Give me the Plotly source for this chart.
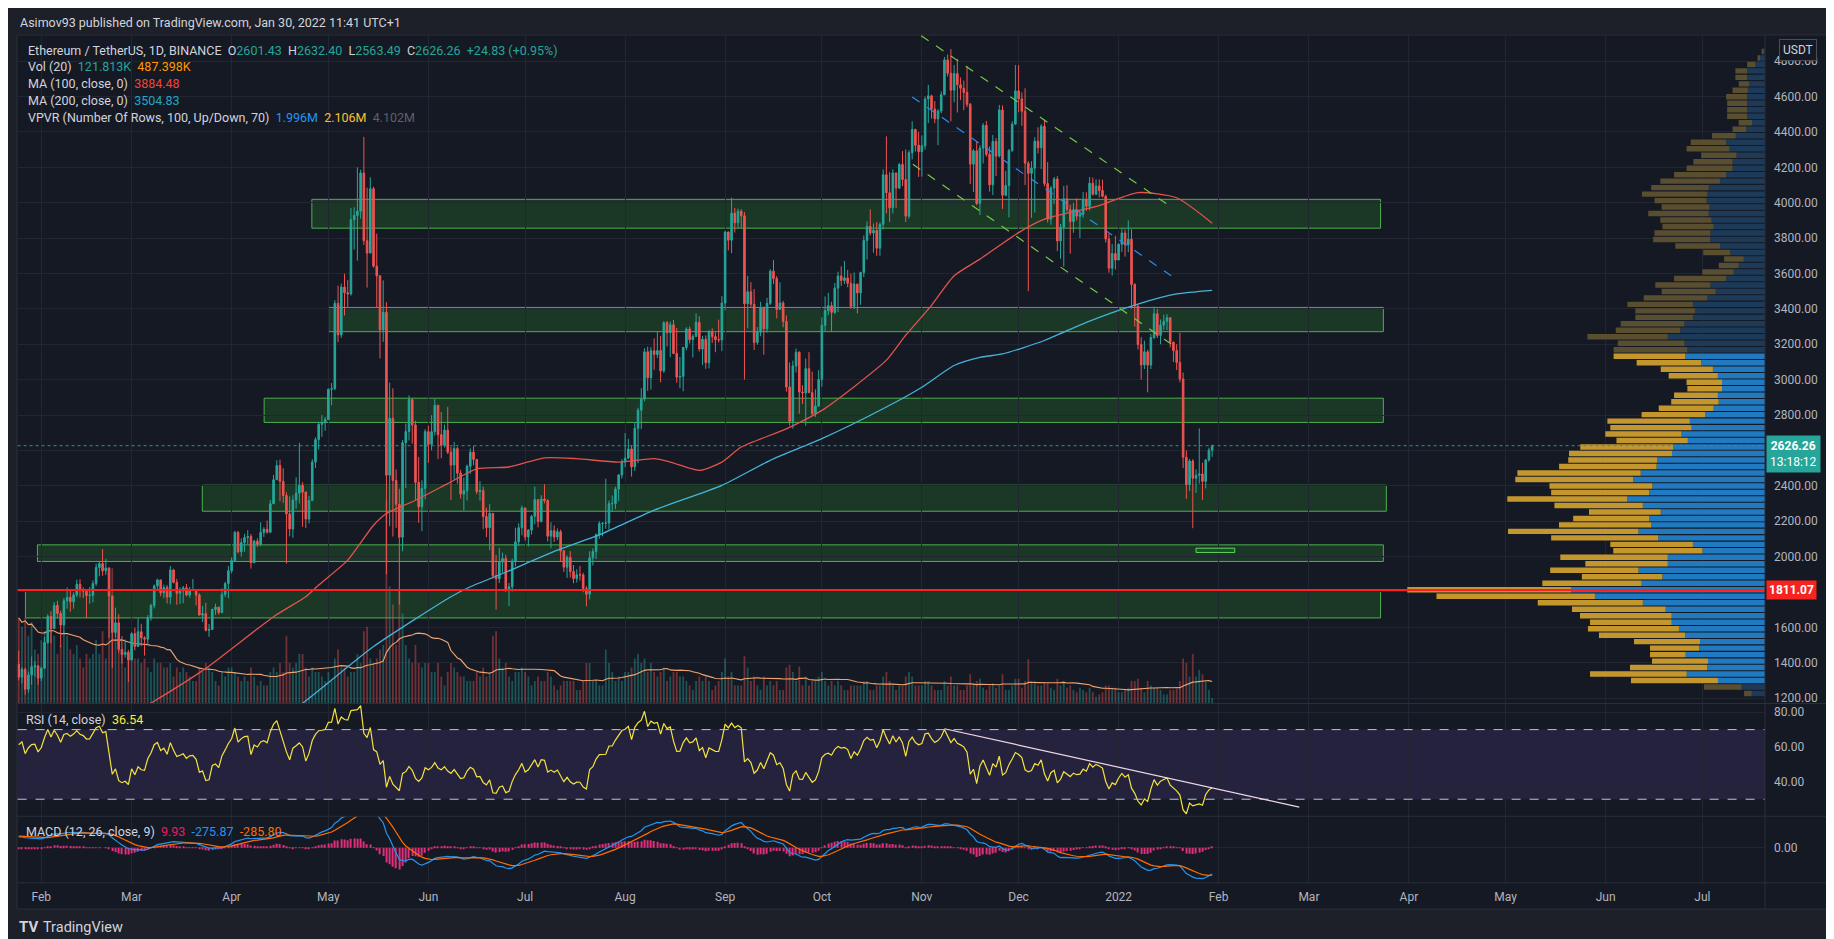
import numpy as np
import pandas as pd
import plotly.graph_objects as go

W, H = 1834, 939

# ---------------- data ----------------
# daily ETH/USDT candles (Binance), 2021-01-25 .. 2022-01-30
first_day = "2021-01-25"
first_open = 1391.6

closes = [
    1318, 1362, 1250, 1331, 1377, 1382, 1313,
    1369, 1514, 1661, 1593, 1724, 1678, 1613, 1750, 1769, 1744, 1783, 1843, 1814, 1804, 1779, 1781, 1848, 1938, 1960, 1919, 1935, 1777, 1571, 1625, 1475, 1446, 1459, 1416,
    1564, 1492, 1575, 1540, 1533, 1654, 1723, 1834, 1868, 1795, 1825, 1771, 1924, 1854, 1792, 1806, 1823, 1782, 1808, 1812, 1782, 1669, 1677, 1583, 1588, 1701, 1714, 1683, 1786, 1847, 1919,
    1977, 2136, 2027, 2078, 2107, 2113, 1965, 2087, 2069, 2136, 2154, 2138, 2298, 2434, 2514, 2425, 2345, 2241, 2156, 2320, 2358, 2402, 2364, 2212, 2317, 2534, 2661, 2747, 2757, 2774,
    2945, 2949, 3431, 3253, 3523, 3491, 3484, 3904, 3928, 3952, 4168, 3785, 3715, 4079, 3641, 3587, 3281, 3381, 2460, 2781, 2430, 2295, 2109, 2643, 2707, 2887, 2744, 2419, 2281, 2385, 2706,
    2634, 2706, 2855, 2689, 2629, 2715, 2590, 2517, 2610, 2471, 2353, 2372, 2510, 2590, 2549, 2367, 2373, 2226, 2163, 2244, 1892, 1874, 1968, 1989, 1811, 1829, 1975, 2083, 2163, 2275,
    2111, 2150, 2227, 2322, 2198, 2325, 2316, 2115, 2146, 2110, 2140, 2032, 1940, 1995, 1916, 1876, 1897, 1896, 1819, 1787, 1993, 2028, 2124, 2186, 2188, 2190, 2299, 2299, 2381, 2461, 2534,
    2556, 2608, 2507, 2725, 2827, 2890, 3157, 3011, 3163, 3142, 3164, 3049, 3322, 3265, 3310, 3148, 3014, 3018, 3182, 3286, 3226, 3244, 3324, 3173, 3228, 3096, 3270, 3243, 3226, 3224, 3433,
    3834, 3788, 3941, 3887, 3952, 3926, 3429, 3497, 3426, 3210, 3268, 3407, 3287, 3431, 3613, 3571, 3397, 3433, 3329, 2958, 2764, 3077, 3155, 2930, 2925, 3062, 2926, 2807, 2850, 3001,
    3307, 3390, 3418, 3380, 3517, 3586, 3560, 3575, 3545, 3414, 3540, 3490, 3605, 3787, 3866, 3829, 3844, 3743, 3878, 4158, 4056, 3971, 4168, 4083, 4216, 4131, 3924, 4283, 4414, 4325, 4288,
    4322, 4586, 4604, 4530, 4474, 4518, 4610, 4807, 4732, 4636, 4730, 4667, 4647, 4623, 4556, 4218, 4293, 3996, 4308, 4437, 4274, 4101, 4346, 4264, 4524, 4042, 4097, 4294, 4444, 4632,
    4587, 4517, 4223, 4166, 4195, 4348, 4311, 4432, 4108, 3907, 4083, 4134, 3784, 3861, 4022, 3961, 3893, 3960, 3924, 3934, 4020, 3980, 4110, 4048, 4094, 4069, 4036, 3795, 3630, 3713, 3676,
    3765, 3829, 3762, 3794, 3538, 3416, 3199, 3083, 3157, 3082, 3238, 3372, 3250, 3308, 3330, 3350, 3212, 3164, 3097, 3004, 2561, 2406, 2540, 2442, 2459, 2467, 2425, 2546, 2601.43, 2626.26,
]
highs = [
    1467, 1375, 1372, 1349, 1435, 1409, 1386,
    1377, 1545, 1675, 1692, 1743, 1750, 1694, 1766, 1826, 1816, 1797, 1870, 1871, 1826, 1800, 1828, 1865, 1960, 1971, 2042, 1987, 1939, 1779, 1711, 1674, 1550, 1531, 1472,
    1572, 1598, 1651, 1620, 1550, 1669, 1734, 1842, 1875, 1869, 1841, 1839, 1946, 1931, 1874, 1826, 1834, 1845, 1828, 1873, 1812, 1793, 1722, 1739, 1619, 1705, 1733, 1715, 1820, 1857, 1946,
    1995, 2145, 2145, 2102, 2128, 2149, 2127, 2094, 2103, 2193, 2166, 2203, 2319, 2461, 2544, 2548, 2499, 2363, 2340, 2347, 2448, 2643, 2420, 2368, 2342, 2550, 2674, 2761, 2800, 2789,
    2950, 2980, 3449, 3531, 3542, 3599, 3562, 3970, 3974, 4200, 4186, 4372, 4085, 4144, 4090, 3825, 3590, 3561, 3438, 2983, 2951, 2492, 2383, 2658, 2752, 2911, 2893, 2767, 2563, 2431, 2720,
    2739, 2799, 2890, 2857, 2817, 2746, 2846, 2620, 2647, 2620, 2490, 2445, 2520, 2611, 2625, 2551, 2426, 2396, 2276, 2296, 2245, 2009, 2049, 2022, 2010, 1851, 1989, 2163, 2188, 2288,
    2275, 2155, 2235, 2396, 2322, 2347, 2409, 2324, 2194, 2176, 2159, 2152, 2036, 2007, 2031, 1952, 1928, 1947, 1908, 1832, 2030, 2045, 2130, 2200, 2195, 2440, 2317, 2345, 2395, 2466, 2550,
    2698, 2665, 2627, 2758, 2841, 2952, 3177, 3186, 3184, 3233, 3271, 3247, 3330, 3331, 3327, 3337, 3292, 3128, 3185, 3296, 3300, 3257, 3375, 3359, 3247, 3250, 3280, 3290, 3267, 3339, 3472,
    3840, 3838, 4028, 3970, 3966, 3964, 3947, 3587, 3551, 3512, 3297, 3440, 3412, 3462, 3624, 3676, 3585, 3550, 3445, 3363, 3097, 3107, 3176, 3160, 2969, 3119, 3155, 3045, 2945, 3053,
    3352, 3470, 3491, 3440, 3546, 3610, 3640, 3670, 3620, 3600, 3606, 3542, 3610, 3815, 3895, 3962, 3883, 3890, 3888, 4188, 4375, 4173, 4188, 4170, 4225, 4292, 4301, 4297, 4460, 4418, 4400,
    4380, 4600, 4666, 4610, 4575, 4528, 4630, 4823, 4838, 4868, 4778, 4814, 4708, 4690, 4773, 4564, 4303, 4344, 4325, 4450, 4462, 4318, 4383, 4365, 4553, 4550, 4180, 4304, 4460, 4778,
    4778, 4624, 4647, 4235, 4234, 4370, 4426, 4444, 4470, 4230, 4095, 4145, 4150, 3880, 4095, 4099, 3989, 3999, 4025, 3953, 4060, 4059, 4145, 4142, 4132, 4132, 4130, 4045, 3825, 3767, 3813,
    3770, 3856, 3850, 3900, 3850, 3545, 3420, 3240, 3220, 3168, 3259, 3412, 3400, 3340, 3367, 3370, 3345, 3200, 3200, 3265, 3040, 2600, 2552, 2550, 2493, 2724, 2530, 2550, 2615, 2632.40,
]
lows = [
    1300, 1283, 1218, 1232, 1275, 1323, 1275,
    1296, 1364, 1507, 1509, 1589, 1652, 1487, 1566, 1705, 1689, 1705, 1770, 1769, 1765, 1652, 1733, 1741, 1833, 1888, 1891, 1896, 1540, 1370, 1543, 1456, 1395, 1428, 1290,
    1411, 1469, 1489, 1493, 1440, 1500, 1637, 1707, 1810, 1776, 1764, 1735, 1730, 1848, 1728, 1732, 1736, 1775, 1767, 1810, 1724, 1668, 1630, 1577, 1546, 1585, 1670, 1672, 1680, 1771, 1764,
    1905, 1968, 2018, 1999, 2027, 2070, 1932, 1966, 2054, 2058, 2111, 2129, 2131, 2300, 2433, 2313, 2303, 1960, 2114, 2106, 2271, 2300, 2168, 2161, 2187, 2313, 2501, 2605, 2677, 2711,
    2772, 2855, 2940, 3212, 3236, 3362, 3412, 3475, 3735, 3672, 3910, 3762, 3520, 3715, 3633, 3406, 3120, 3213, 1900, 2171, 2113, 2162, 1728, 2030, 2387, 2656, 2638, 2320, 2191, 2144, 2323,
    2530, 2600, 2684, 2551, 2556, 2616, 2580, 2320, 2434, 2412, 2328, 2260, 2317, 2467, 2516, 2352, 2316, 2154, 2110, 2036, 1875, 1700, 1850, 1908, 1800, 1720, 1802, 1945, 2059, 2120,
    2090, 2057, 2124, 2182, 2165, 2193, 2301, 2085, 2047, 2082, 2092, 1972, 1913, 1879, 1881, 1849, 1853, 1864, 1798, 1718, 1758, 1950, 1986, 2100, 2114, 2157, 2152, 2252, 2268, 2313, 2441,
    2505, 2551, 2452, 2484, 2527, 2720, 2877, 2937, 2944, 3055, 3122, 2985, 3038, 3187, 3127, 3144, 2982, 2952, 2934, 3166, 3204, 3125, 3241, 3159, 3083, 3061, 3064, 3207, 3155, 3210, 3161,
    3392, 3730, 3715, 3831, 3856, 3855, 3000, 3290, 3407, 3168, 3197, 3245, 3141, 3265, 3422, 3540, 3346, 3394, 3296, 2932, 2740, 2723, 3040, 2807, 2863, 2739, 2925, 2795, 2788, 2850,
    2960, 3270, 3364, 3270, 3370, 3382, 3530, 3540, 3522, 3400, 3398, 3375, 3423, 3580, 3679, 3815, 3717, 3700, 3700, 3849, 3939, 3890, 3939, 3970, 4076, 4094, 3890, 3910, 4245, 4290, 4146,
    4147, 4300, 4450, 4475, 4450, 4325, 4505, 4608, 4713, 4460, 4567, 4510, 4580, 4523, 4540, 4105, 4060, 3986, 3930, 4222, 4261, 4063, 4043, 4150, 4255, 3965, 4037, 3917, 4288, 4440,
    4511, 4435, 4100, 3500, 3915, 3944, 4278, 4190, 4092, 3888, 3875, 3992, 3727, 3683, 3638, 3946, 3712, 3830, 3900, 3800, 3915, 3953, 3956, 4040, 4042, 4030, 4030, 3775, 3604, 3588, 3622,
    3680, 3722, 3695, 3720, 3400, 3300, 3170, 3000, 3060, 2928, 3060, 3230, 3235, 3200, 3281, 3280, 3182, 3100, 3054, 2985, 2500, 2326, 2370, 2160, 2360, 2412, 2320, 2385, 2535, 2563.49,
]
# volume in thousands of ETH
volume_k = [
    1900, 1700, 1900, 1500, 1800, 1200, 1100,
    1400, 1600, 1900, 1800, 1500, 1100, 1300, 1600, 1500, 1200, 1100, 1300, 1000, 800, 1100, 1000, 1100, 1400, 1100, 1600, 1000, 2600, 3000, 1800, 1500, 1200, 800, 1000,
    1200, 1000, 1000, 900, 1000, 800, 700, 1000, 900, 900, 800, 800, 900, 600, 800, 700, 800, 700, 600, 500, 500, 800, 700, 900, 800, 700, 500, 400, 700, 600, 800,
    800, 700, 600, 500, 600, 500, 800, 600, 400, 500, 400, 400, 700, 800, 700, 900, 700, 1500, 900, 800, 900, 1100, 1100, 800, 600, 800, 700, 700, 600, 500,
    700, 500, 1000, 1200, 800, 800, 600, 700, 700, 1100, 900, 1600, 1700, 1000, 900, 1000, 1200, 1300, 4500, 2600, 2200, 1300, 2500, 2000, 1300, 1000, 900, 1300, 900, 800, 900,
    900, 700, 700, 900, 600, 400, 700, 900, 800, 700, 600, 600, 500, 500, 500, 700, 600, 800, 600, 700, 1500, 1600, 1000, 800, 900, 600, 500, 700, 700, 800,
    700, 600, 400, 500, 600, 500, 500, 700, 600, 400, 300, 400, 500, 500, 500, 500, 300, 300, 500, 900, 900, 500, 500, 400, 400, 1200, 900, 700, 500, 600, 500,
    700, 700, 800, 1000, 1100, 900, 1000, 700, 900, 700, 600, 700, 800, 500, 600, 700, 700, 600, 600, 500, 400, 300, 500, 600, 500, 600, 500, 300, 400, 500, 700,
    1000, 600, 700, 400, 400, 400, 1050, 800, 500, 600, 400, 300, 600, 400, 500, 400, 500, 300, 300, 800, 860, 700, 500, 820, 400, 600, 400, 500, 500, 600,
    700, 500, 400, 500, 400, 500, 400, 300, 300, 400, 400, 400, 400, 500, 500, 300, 300, 400, 400, 600, 700, 500, 400, 300, 400, 400, 600, 700, 600, 400, 400,
    400, 500, 500, 400, 300, 300, 300, 500, 400, 600, 400, 400, 300, 300, 400, 650, 450, 500, 550, 350, 300, 400, 450, 350, 400, 650, 300, 300, 400, 550,
    550, 350, 500, 980, 500, 500, 400, 400, 450, 450, 350, 300, 550, 400, 500, 350, 400, 300, 250, 350, 300, 250, 350, 250, 150, 200, 250, 400, 400, 350, 350,
    250, 250, 300, 350, 500, 500, 550, 350, 250, 500, 400, 350, 350, 300, 200, 200, 300, 300, 330, 500, 1000, 900, 600, 1100, 600, 750, 650, 500, 300, 121.813,
]
# closes before the visible range (2020-12-15 .. 2021-01-24), only to warm up RSI / MACD
warmup_closes = [
    590, 637, 642, 654, 659, 638, 608, 635, 583, 612, 626, 635, 683, 731, 731, 751, 737,
    730, 775, 979, 1041, 1099, 1208, 1225, 1224, 1281, 1262, 1090, 1043, 1130, 1218, 1171, 1233, 1229, 1255, 1382, 1377, 1110, 1233, 1232, 1391.6,
]

# moving averages
ma100_dates = ["2021-03-01", "2021-03-07", "2021-03-24", "2021-04-14", "2021-04-24", "2021-04-28", "2021-05-07",
               "2021-05-15", "2021-05-19", "2021-05-28", "2021-06-07", "2021-06-16", "2021-06-26", "2021-07-07",
               "2021-07-17", "2021-07-30", "2021-08-10", "2021-08-15", "2021-08-24", "2021-08-31", "2021-09-06",
               "2021-09-20", "2021-10-01", "2021-10-11", "2021-10-21", "2021-10-27", "2021-11-04", "2021-11-11",
               "2021-11-19", "2021-12-01", "2021-12-09", "2021-12-26", "2022-01-07", "2022-01-19", "2022-01-30"]
ma100_vals = [1110, 1172, 1368, 1660, 1773, 1839, 1980, 2177, 2243, 2318, 2412, 2496, 2506, 2558, 2553, 2534, 2553,
              2534, 2487, 2534, 2619, 2722, 2826, 2960, 3110, 3251, 3420, 3587, 3681, 3831, 3907, 3984, 4057, 4028, 3884.48]
ma200_dates = ["2021-04-15", "2021-04-23", "2021-05-15", "2021-06-08", "2021-06-14", "2021-06-24", "2021-07-11",
               "2021-07-25", "2021-08-10", "2021-08-31", "2021-09-15", "2021-10-01", "2021-10-21", "2021-11-01",
               "2021-11-11", "2021-11-19", "2021-11-26", "2021-12-09", "2021-12-22", "2022-01-07", "2022-01-19", "2022-01-30"]
ma200_vals = [1080, 1171, 1491, 1773, 1829, 1904, 2036, 2130, 2262, 2402, 2544, 2666, 2845, 2957, 3080, 3126, 3145,
              3221, 3324, 3427, 3484, 3504.83]

# visible range volume profile: 100 rows from the top of the range down, up / down volume (K)
vp_top, vp_step = 4873.3, 36.66
vp_up = [23, 57, 110, 205, 205, 181, 196, 205, 205, 205,
         205, 148, 215, 335, 445, 406, 325, 372, 372, 445,
         516, 645, 659, 669, 636, 645, 612, 588, 626, 626,
         516, 397, 244, 301, 359, 445, 626, 564, 659, 826,
         802, 826, 923, 971, 1114, 923, 889, 912, 731, 597,
         540, 493, 493, 540, 531, 588, 683, 861, 841, 956,
         884, 1051, 1066, 1233, 1242, 1424, 1510, 1290, 1328, 1577,
         1400, 1195, 1328, 1304, 1449, 1224, 826, 717, 1114, 1114,
         1449, 1176, 1414, 2222, 1949, 1400, 1138, 1069, 1069, 986,
         917, 745, 756, 909, 653, 661, 897, 539, 267, 152]
vp_down = [11, 29, 95, 134, 134, 120, 176, 240, 229, 229,
           229, 154, 157, 273, 406, 493, 406, 449, 526, 597,
           684, 659, 751, 597, 549, 693, 588, 588, 641, 656,
           512, 311, 225, 229, 359, 597, 631, 621, 731, 751,
           684, 660, 731, 740, 921, 764, 846, 823, 740, 598,
           564, 406, 397, 502, 544, 630, 731, 945, 932, 874,
           818, 1066, 1180, 1022, 1118, 1414, 1352, 1180, 1123, 1376,
           1013, 822, 870, 1057, 1496, 1227, 947, 1022, 1232, 945,
           1013, 923, 1138, 1878, 1816, 1204, 1074, 1051, 936, 1043,
           986, 756, 562, 409, 642, 886, 1108, 997, 432, 88]
va_low, va_high = 1280, 3150
poc_price = 1811.07

# support / resistance zones drawn on the chart
zone_low = [3856, 3271, 2758, 2256, 1972, 1653]
zone_high = [4019, 3408, 2895, 2403, 2066, 1806]
zone_start = ["2021-04-25 21:00", "2021-05-01 02:00", "2021-04-11 02:00", "2021-03-22 22:00", "2021-01-30 19:00", "2021-01-27 02:00"]
zone_end = ["2022-03-23 05:00", "2022-03-24 02:00", "2022-03-24 02:00", "2022-03-25 00:00", "2022-03-24 02:00", "2022-03-23 05:00"]
small_zone = ("2022-01-25", "2022-02-06", 2023, 2047)

# falling channel (date, price) pairs and RSI trendline
channel = [
    ("2021-10-31 19:00", 4944, "2022-01-16 19:00", 3982, "#74c843"),
    ("2021-10-29 05:00", 4217, "2022-01-17 07:00", 3201, "#74c843"),
    ("2021-10-29 00:00", 4598, "2022-01-17 07:00", 3587, "#2a8bf2"),
]
rsi_trend = ("2021-11-08", 70.5, "2022-02-26", 25.5)

# price scale: 1800 and 2600 sit under the POC / last-price boxes
price_ticks = [1200, 1400, 1600, 1800, 2000, 2200, 2400, 2600, 2800, 3000, 3200, 3400, 3600, 3800, 4000, 4200, 4400, 4600, 4800]
price_labels = ["1200.00", "1400.00", "1600.00", "", "2000.00", "2200.00", "2400.00", "", "2800.00", "3000.00",
                "3200.00", "3400.00", "3600.00", "3800.00", "4000.00", "4200.00", "4400.00", "4600.00", "4800.00"]
month_ticks = ["2021-02-01", "2021-03-01", "2021-04-01", "2021-05-01", "2021-06-01", "2021-07-01", "2021-08-01",
               "2021-09-01", "2021-10-01", "2021-11-01", "2021-12-01", "2022-01-01", "2022-02-01", "2022-03-01",
               "2022-04-01", "2022-05-01", "2022-06-01", "2022-07-01"]
month_labels = ["Feb", "Mar", "Apr", "May", "Jun", "Jul", "Aug", "Sep", "Oct", "Nov", "Dec", "2022",
                "Feb", "Mar", "Apr", "May", "Jun", "Jul"]

assert len(closes) == len(highs) == len(lows) == len(volume_k) == 371
assert len(vp_up) == len(vp_down) == 100

# ---------------- derived series ----------------
dates = pd.date_range(first_day, periods=len(closes), freq="D")
opens = [first_open] + closes[:-1]
highs = np.maximum.reduce([np.array(highs, float), np.array(opens, float), np.array(closes, float)])
lows = np.minimum.reduce([np.array(lows, float), np.array(opens, float), np.array(closes, float)])

up_day = np.array(closes) >= np.array(opens)
vol_colors = np.where(up_day, "rgba(38,166,154,0.42)", "rgba(239,83,80,0.42)")
vol_ma = pd.Series(volume_k).rolling(20, min_periods=1).mean()

allc = pd.Series(warmup_closes + closes, dtype=float)
delta = allc.diff()
gain = delta.clip(lower=0).ewm(alpha=1 / 14, adjust=False).mean()
loss = (-delta.clip(upper=0)).ewm(alpha=1 / 14, adjust=False).mean()
rsi = (100 - 100 / (1 + gain / loss)).iloc[len(warmup_closes):].values
macd = allc.ewm(span=12, adjust=False).mean() - allc.ewm(span=26, adjust=False).mean()
signal = macd.ewm(span=9, adjust=False).mean()
hist = (macd - signal).iloc[len(warmup_closes):].values
macd = macd.iloc[len(warmup_closes):].values
signal = signal.iloc[len(warmup_closes):].values

vp_centers = [vp_top - (i + 0.5) * vp_step for i in range(len(vp_up))]
in_va = [va_low <= p <= va_high for p in vp_centers]
vp_up_col = ["#2179c0" if v else "#1d3b58" for v in in_va]
vp_dn_col = ["#c4972e" if v else "#5a4e30" for v in in_va]

# ---------------- layout geometry (pixels) ----------------
BG = "#151924"
PAPER = "#1d2029"
GRID = "#222632"
SEP = "#2a2e39"
TXT = "#b2b5be"
LBL = "#d1d4dc"
TEAL = "#26a69a"
RED = "#ef5350"
FONT = "Roboto"

X0, X1 = 9.6, 1757
PANE_TOP, MAIN_BOT, RSI_BOT, MACD_BOT, FRAME_BOT = 27, 697, 810, 876.7, 903


def fx(px):
    return px / W


def fy(py):
    return 1 - py / H


xdom = [fx(X0), fx(X1)]
feb1 = pd.Timestamp("2021-02-01")
x_range = [feb1 - pd.Timedelta(days=7.35), feb1 + pd.Timedelta(days=534.4)]
vol_max = (MAIN_BOT - PANE_TOP) / 0.0452
vp_max = (X1 - X0) * 11.46

fig = go.Figure()

fig.add_trace(go.Bar(x=dates, y=volume_k, marker=dict(color=vol_colors, line=dict(width=0)),
                     width=0.55 * 86400000, xaxis="x", yaxis="y"))
fig.add_trace(go.Scatter(x=dates, y=vol_ma, mode="lines", line=dict(color="#f0a470", width=1.1),
                         xaxis="x", yaxis="y"))

fig.add_trace(go.Scatter(x=pd.to_datetime(ma100_dates), y=ma100_vals, mode="lines",
                         line=dict(color="#e2534c", width=1.3, shape="spline", smoothing=0.6), xaxis="x", yaxis="y2"))
fig.add_trace(go.Scatter(x=pd.to_datetime(ma200_dates), y=ma200_vals, mode="lines",
                         line=dict(color="#45b3d8", width=1.3, shape="spline", smoothing=0.6), xaxis="x", yaxis="y2"))
fig.add_trace(go.Candlestick(
    x=dates, open=opens, high=highs, low=lows, close=closes,
    increasing=dict(line=dict(color=TEAL, width=1), fillcolor=TEAL),
    decreasing=dict(line=dict(color=RED, width=1), fillcolor=RED),
    whiskerwidth=0, xaxis="x", yaxis="y2"))

fig.add_trace(go.Bar(orientation="h", y=vp_centers, x=vp_up, base=0, width=vp_step * 0.84,
                     marker=dict(color=vp_up_col, line=dict(width=0)), xaxis="x4", yaxis="y2"))
fig.add_trace(go.Bar(orientation="h", y=vp_centers, x=vp_down, base=vp_up, width=vp_step * 0.84,
                     marker=dict(color=vp_dn_col, line=dict(width=0)), xaxis="x4", yaxis="y2"))

fig.add_trace(go.Scatter(x=dates, y=rsi, mode="lines", line=dict(color="#f3e23f", width=1.2),
                         xaxis="x2", yaxis="y3"))

fig.add_trace(go.Bar(x=dates, y=hist, marker=dict(color="#e0307a", line=dict(width=0)),
                     width=0.35 * 86400000, xaxis="x3", yaxis="y4"))
fig.add_trace(go.Scatter(x=dates, y=macd, mode="lines", line=dict(color="#2196f3", width=1.2),
                         xaxis="x3", yaxis="y4"))
fig.add_trace(go.Scatter(x=dates, y=signal, mode="lines", line=dict(color="#ff6d00", width=1.2),
                         xaxis="x3", yaxis="y4"))

tickfont = dict(family=FONT, size=12, color=TXT)
xcommon = dict(type="date", range=x_range, domain=xdom, showgrid=True, gridcolor=GRID, gridwidth=1,
               tickmode="array", tickvals=month_ticks, ticktext=month_labels, zeroline=False,
               showline=False, ticks="", fixedrange=True)

fig.update_layout(
    width=W, height=H, autosize=False,
    margin=dict(l=0, r=0, t=0, b=0),
    paper_bgcolor=PAPER, plot_bgcolor=BG,
    showlegend=False, hovermode=False, barmode="overlay", dragmode=False,
    font=dict(family=FONT, size=12, color=TXT),
    xaxis=dict(**xcommon, anchor="y", showticklabels=False, rangeslider=dict(visible=False)),
    xaxis2=dict(**xcommon, anchor="y3", matches="x", showticklabels=False),
    xaxis3=dict(**xcommon, anchor="y4", matches="x", showticklabels=True, tickfont=tickfont,
                ticklabelstandoff=5),
    xaxis4=dict(overlaying="x", range=[vp_max, 0], showgrid=False, showticklabels=False,
                zeroline=False, showline=False, anchor="y2", fixedrange=True),
    yaxis=dict(domain=[fy(MAIN_BOT), fy(PANE_TOP)], range=[0, vol_max], showgrid=False,
               showticklabels=False, zeroline=False, showline=False, anchor="x", fixedrange=True),
    yaxis2=dict(overlaying="y", side="right", anchor="x", range=[1169.2, 4948.2], tickmode="array",
                tickvals=price_ticks, ticktext=price_labels, showgrid=True, gridcolor=GRID, zeroline=False,
                showline=False, ticks="", tickfont=tickfont, ticklabelstandoff=8, fixedrange=True),
    yaxis3=dict(domain=[fy(RSI_BOT), fy(MAIN_BOT)], anchor="x2", side="right", range=[20.2, 85],
                tickmode="array", tickvals=[40, 60, 80], tickformat=".2f", showgrid=True, gridcolor=GRID,
                zeroline=False, showline=False, ticks="", tickfont=tickfont, ticklabelstandoff=8, fixedrange=True),
    yaxis4=dict(domain=[fy(MACD_BOT), fy(RSI_BOT)], anchor="x3", side="right", range=[-367, 328],
                tickmode="array", tickvals=[0], tickformat=".2f", showgrid=True, gridcolor=GRID,
                zeroline=False, showline=False, ticks="", tickfont=tickfont, ticklabelstandoff=8, fixedrange=True),
)

shapes = []
# chart frame
shapes.append(dict(type="rect", xref="paper", yref="paper", x0=fx(9), x1=fx(1823), y0=fy(FRAME_BOT), y1=fy(PANE_TOP),
                   fillcolor=BG, line=dict(color=SEP, width=1), layer="below"))
# zones
for lo, hi, s, e in zip(zone_low, zone_high, zone_start, zone_end):
    shapes.append(dict(type="rect", xref="x", yref="y2", x0=s, x1=e, y0=lo, y1=hi,
                       fillcolor="rgba(40,120,45,0.33)", line=dict(color="#4caf50", width=1), layer="below"))
shapes.append(dict(type="rect", xref="x", yref="y2", x0=small_zone[0], x1=small_zone[1], y0=small_zone[2],
                   y1=small_zone[3], fillcolor="rgba(40,120,45,0.33)", line=dict(color="#5fd35f", width=1)))
# channel
for s, p0, e, p1, c in channel:
    shapes.append(dict(type="line", xref="x", yref="y2", x0=s, x1=e, y0=p0, y1=p1,
                       line=dict(color=c, width=1.2, dash="dash")))
# last price and POC lines
shapes.append(dict(type="line", xref="paper", yref="y2", x0=xdom[0], x1=xdom[1], y0=closes[-1], y1=closes[-1],
                   line=dict(color="#3a8f8a", width=1, dash="dot")))
shapes.append(dict(type="line", xref="paper", yref="y2", x0=fx(X0), x1=xdom[1], y0=poc_price, y1=poc_price,
                   line=dict(color="#ff1f1f", width=2)))
# RSI band
shapes.append(dict(type="rect", xref="paper", yref="y3", x0=xdom[0], x1=xdom[1], y0=30, y1=70,
                   fillcolor="rgba(126,87,194,0.16)", line=dict(width=0), layer="below"))
for lvl in (30, 70):
    shapes.append(dict(type="line", xref="paper", yref="y3", x0=xdom[0], x1=xdom[1], y0=lvl, y1=lvl,
                       line=dict(color="#c3c6ce", width=1, dash="dash")))
shapes.append(dict(type="line", xref="x2", yref="y3", x0=rsi_trend[0], y0=rsi_trend[1], x1=rsi_trend[2],
                   y1=rsi_trend[3], line=dict(color="#eed9e6", width=1.2)))
# pane separators
for py in (MAIN_BOT, RSI_BOT, MACD_BOT):
    shapes.append(dict(type="line", xref="paper", yref="paper", x0=fx(9), x1=fx(1823), y0=fy(py), y1=fy(py),
                       line=dict(color=SEP, width=1)))
shapes.append(dict(type="line", xref="paper", yref="paper", x0=fx(X1), x1=fx(X1), y0=fy(FRAME_BOT), y1=fy(PANE_TOP),
                   line=dict(color=SEP, width=1)))
fig.update_layout(shapes=shapes)


def span(t, c):
    return f"<span style='color:{c}'>{t}</span>"


S = "&nbsp;&nbsp;"
legend_lines = [
    span("Ethereum / TetherUS, 1D, BINANCE", LBL) + S + span("O", LBL) + span("2601.43", TEAL) + S
    + span("H", LBL) + span("2632.40", TEAL) + S + span("L", LBL) + span("2563.49", TEAL) + S
    + span("C", LBL) + span("2626.26", TEAL) + S + span("+24.83 (+0.95%)", TEAL),
    span("Vol (20)", LBL) + S + span("121.813K", TEAL) + S + span("487.398K", "#ff9800"),
    span("MA (100, close, 0)", LBL) + S + span("3884.48", "#f44336"),
    span("MA (200, close, 0)", LBL) + S + span("3504.83", "#22a7c4"),
    span("VPVR (Number Of Rows, 100, Up/Down, 70)", LBL) + S + span("1.996M", "#2196f3") + S
    + span("2.106M", "#fbc02d") + S + span("4.102M", "#5d606b"),
]
ann = [dict(text="Asimov93 published on TradingView.com, Jan 30, 2022 11:41 UTC+1", x=fx(10), y=fy(15),
            font=dict(size=12.5, color=LBL))]
for i, t in enumerate(legend_lines):
    ann.append(dict(text=t, x=fx(18), y=fy(42.3 + 16.8 * i), font=dict(size=12.5, color=LBL)))
ann.append(dict(text=span("RSI (14, close)", LBL) + S + span("36.54", "#ffeb3b"), x=fx(16), y=fy(712.7),
                font=dict(size=12.5)))
ann.append(dict(text=span("MACD (12, 26, close, 9)", LBL) + S + span("9.93", "#e91e63") + S
                + span("-275.87", "#2196f3") + S + span("-285.80", "#ff6d00"), x=fx(16), y=fy(825.7),
                font=dict(size=12.5)))
ann.append(dict(text="<b>TV</b>", x=fx(9), y=fy(921), font=dict(size=15, color=LBL)))
ann.append(dict(text="TradingView", x=fx(33), y=fy(921), font=dict(size=14.5, color=LBL)))
for a in ann:
    a.update(xref="paper", yref="paper", xanchor="left", yanchor="middle", showarrow=False)
    a["font"] = dict(family=FONT, **a["font"])

# price-scale labels
ann.append(dict(text="<b>2626.26</b><br>13:18:12", xref="paper", yref="paper", x=fx(X1 + 1), y=fy(446.5),
                xanchor="left", yanchor="middle", showarrow=False, bgcolor=TEAL, borderpad=3,
                font=dict(family=FONT, size=12, color="#ffffff")))
ann.append(dict(text="<b>1811.07</b>", xref="paper", yref="paper", x=fx(X1 + 1), y=fy(583.5),
                xanchor="left", yanchor="middle", showarrow=False, bgcolor="#f7231f", borderpad=2,
                font=dict(family=FONT, size=12, color="#ffffff")))
ann.append(dict(text="USDT", xref="paper", yref="paper", x=fx(1790), y=fy(42.5),
                xanchor="center", yanchor="middle", showarrow=False, bgcolor=BG, bordercolor="#4a4e5a",
                borderwidth=1, borderpad=3, font=dict(family=FONT, size=12, color=LBL)))
fig.update_layout(annotations=ann)

fig.write_html("out.html", config={"displayModeBar": False})
